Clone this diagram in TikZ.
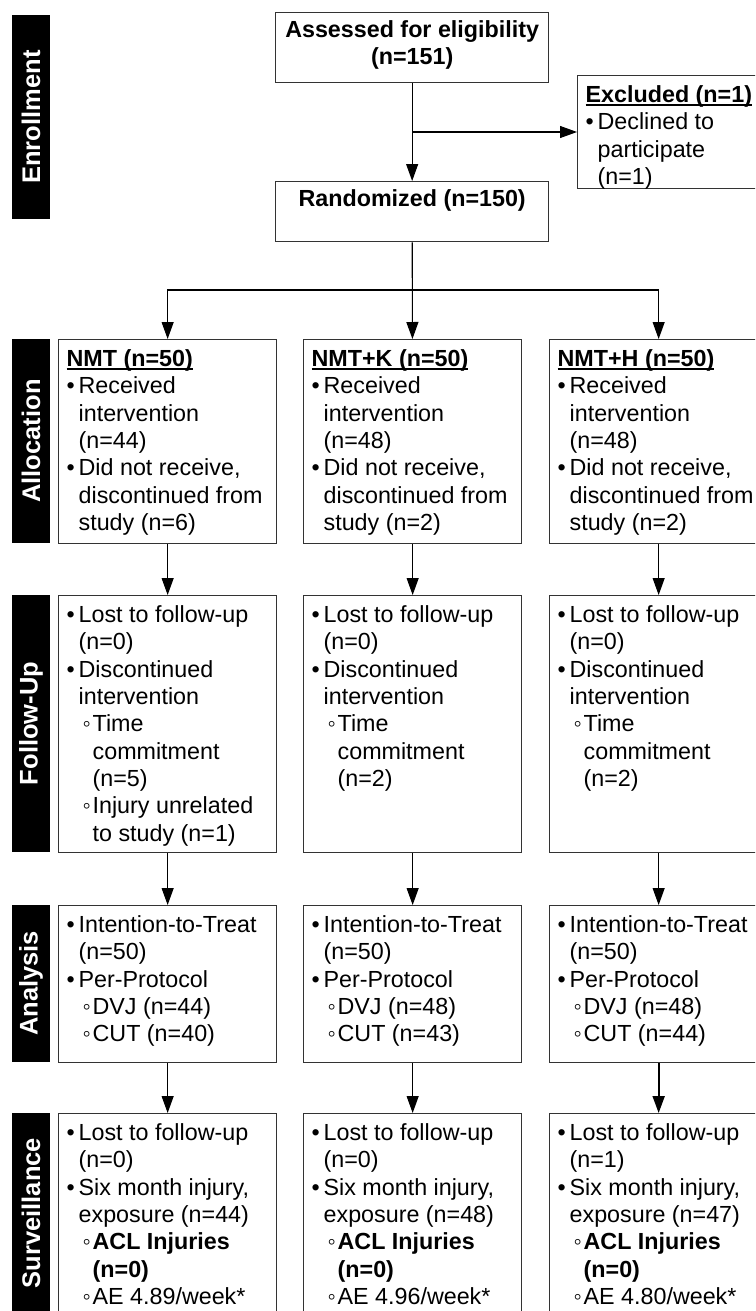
\documentclass[tikz,border=0pt]{standalone}
\usepackage{fontspec}
\setmainfont{Liberation Sans}
\usetikzlibrary{arrows.meta, positioning}
\tikzstyle{stage} = [draw=black!80, line width=1.3pt, inner sep=0pt, anchor=north west, fill=white]
\tikzstyle{phase} = [fill=black, text=white, rotate=90, minimum height=38pt, inner sep=0pt, font=\fontsize{25.5}{28}\selectfont\bfseries]
\tikzstyle{arrow} = [line width=1.1pt, -{Triangle[width=12pt,length=17pt]}]
\newcommand{\cell}[3]{\parbox[c][#2][t]{#1}{\raggedright\leftskip=8pt\rule{0pt}{27pt}#3}}
\newcommand{\midcell}[3]{\parbox[c][#2][t]{#1}{\centering\bfseries\rule{0pt}{25pt}#3}}
\newcommand{\hd}[1]{\setbox0\hbox{\textbf{#1}}\rlap{\rule[-3pt]{\wd0}{1.4pt}}\box0}
\newcommand{\bl}{\makebox[12pt][l]{\textbullet}}
\newcommand{\ind}{\hspace*{12pt}}
\newcommand{\sbl}{\hspace*{16pt}\makebox[10pt][l]{◦}}
\newcommand{\sind}{\hspace*{26pt}}
\begin{document}
\begin{tikzpicture}[x=1pt, y=-1pt, font=\fontsize{23.3}{27.3}\selectfont]
    \useasboundingbox (0,0) rectangle (755,1311);
    \clip (0,0) rectangle (755,1311);
    % phase bars
    \node (lenroll) [phase, minimum width=204pt] at (31,117) {Enrollment};
    \node (lalloc) [phase, minimum width=204pt] at (31,441) {Allocation};
    \node (lfollow) [phase, minimum width=257pt] at (31,723.5) {Follow-Up};
    \node (lanalysis) [phase, minimum width=157pt] at (31,983.5) {Analysis};
    \node (lsurv) [phase, minimum width=200pt] at (31,1213) {Surveillance};
    % enrollment
    \node (assess) [stage] at (275,12) {\midcell{273pt}{70pt}{Assessed for eligibility\\(n=151)}};
    \node (random) [stage] at (275,181) {\midcell{273pt}{60pt}{Randomized (n=150)}};
    \node (excl) [stage] at (577,75) {\cell{200pt}{113pt}{\hd{Excluded (n=1)}\\ \bl Declined to\\ \ind participate\\ \ind (n=1)}};
    % allocation
    \node (alloc1) [stage] at (58,339) {\cell{218pt}{204pt}{\hd{NMT (n=50)}\\ \bl Received\\ \ind intervention\\ \ind (n=44)\\ \bl Did not receive,\\ \ind discontinued from\\ \ind study (n=6)}};
    \node (alloc2) [stage] at (303,339) {\cell{218pt}{204pt}{\hd{NMT+K (n=50)}\\ \bl Received\\ \ind intervention\\ \ind (n=48)\\ \bl Did not receive,\\ \ind discontinued from\\ \ind study (n=2)}};
    \node (alloc3) [stage] at (549,339) {\cell{218pt}{204pt}{\hd{NMT+H (n=50)}\\ \bl Received\\ \ind intervention\\ \ind (n=48)\\ \bl Did not receive,\\ \ind discontinued from\\ \ind study (n=2)}};
    % follow-up
    \node (follow1) [stage] at (58,595) {\cell{218pt}{257pt}{\bl Lost to follow-up\\ \ind (n=0)\\ \bl Discontinued\\ \ind intervention\\ \sbl Time\\ \sind commitment\\ \sind (n=5)\\ \sbl Injury unrelated\\ \sind to study (n=1)}};
    \node (follow2) [stage] at (303,595) {\cell{218pt}{257pt}{\bl Lost to follow-up\\ \ind (n=0)\\ \bl Discontinued\\ \ind intervention\\ \sbl Time\\ \sind commitment\\ \sind (n=2)}};
    \node (follow3) [stage] at (549,595) {\cell{218pt}{257pt}{\bl Lost to follow-up\\ \ind (n=0)\\ \bl Discontinued\\ \ind intervention\\ \sbl Time\\ \sind commitment\\ \sind (n=2)}};
    % analysis
    \node (anal1) [stage] at (58,905) {\cell{218pt}{157pt}{\bl Intention-to-Treat\\ \ind (n=50)\\ \bl Per-Protocol\\ \sbl DVJ (n=44)\\ \sbl CUT (n=40)}};
    \node (anal2) [stage] at (303,905) {\cell{218pt}{157pt}{\bl Intention-to-Treat\\ \ind (n=50)\\ \bl Per-Protocol\\ \sbl DVJ (n=48)\\ \sbl CUT (n=43)}};
    \node (anal3) [stage] at (549,905) {\cell{218pt}{157pt}{\bl Intention-to-Treat\\ \ind (n=50)\\ \bl Per-Protocol\\ \sbl DVJ (n=48)\\ \sbl CUT (n=44)}};
    % surveillance
    \node (surv1) [stage] at (58,1113) {\cell{218pt}{220pt}{\bl Lost to follow-up\\ \ind (n=0)\\ \bl Six month injury,\\ \ind exposure (n=44)\\ \sbl \textbf{ACL Injuries}\\ \sind \textbf{(n=0)}\\ \sbl AE 4.89/week*}};
    \node (surv2) [stage] at (303,1113) {\cell{218pt}{220pt}{\bl Lost to follow-up\\ \ind (n=0)\\ \bl Six month injury,\\ \ind exposure (n=48)\\ \sbl \textbf{ACL Injuries}\\ \sind \textbf{(n=0)}\\ \sbl AE 4.96/week*}};
    \node (surv3) [stage] at (549,1113) {\cell{218pt}{220pt}{\bl Lost to follow-up\\ \ind (n=1)\\ \bl Six month injury,\\ \ind exposure (n=47)\\ \sbl \textbf{ACL Injuries}\\ \sind \textbf{(n=0)}\\ \sbl AE 4.80/week*}};
    % connectors
    \coordinate (branch) at (412,132);
    \coordinate (split) at (412,290);
    \draw [arrow] (assess) -- (random);
    \draw [arrow] (branch) -- (branch -| excl.west);
    \draw [arrow] (random) -- (alloc2);
    \draw [arrow] (split) -| (alloc1);
    \draw [arrow] (split) -| (alloc3);
    \draw [arrow] (alloc1) -- (follow1);
    \draw [arrow] (alloc2) -- (follow2);
    \draw [arrow] (alloc3) -- (follow3);
    \draw [arrow] (follow1) -- (anal1);
    \draw [arrow] (follow2) -- (anal2);
    \draw [arrow] (follow3) -- (anal3);
    \draw [arrow] (anal1) -- (surv1);
    \draw [arrow] (anal2) -- (surv2);
    \draw [arrow, line width=2pt] (anal3) -- (surv3);
\end{tikzpicture}
\end{document}
